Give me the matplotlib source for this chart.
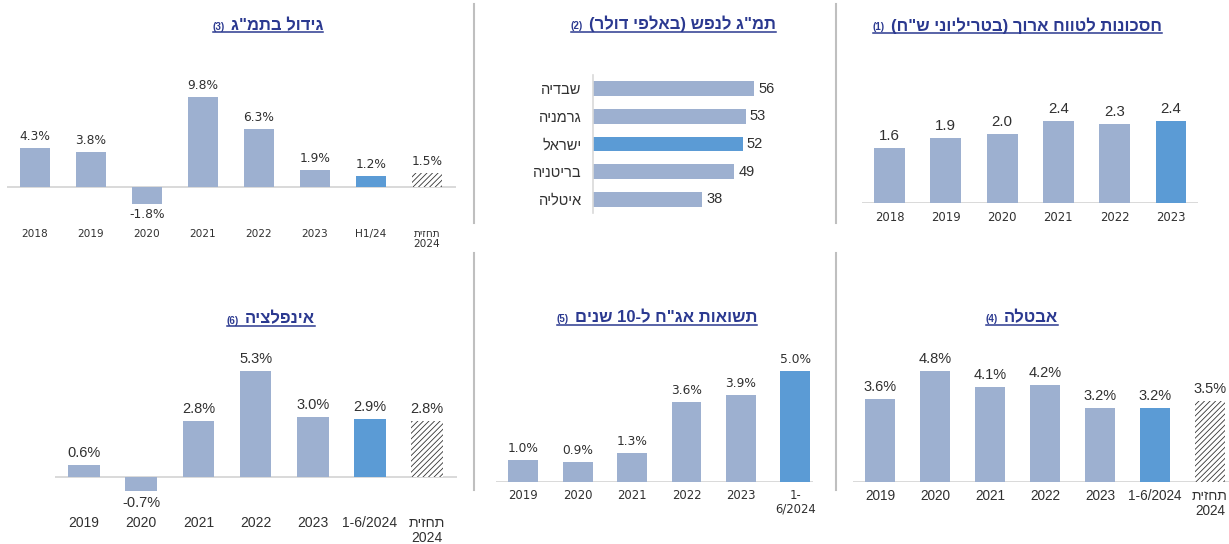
import re
import numpy as np
import matplotlib
matplotlib.use('Agg')
import matplotlib.pyplot as plt
from matplotlib.lines import Line2D

W, H = 1229, 544

# ---- data ----
savings_years = ['2018', '2019', '2020', '2021', '2022', '2023']
savings = [1.6, 1.9, 2.0, 2.4, 2.3, 2.4]

countries = ['שבדיה', 'גרמניה', 'ישראל', 'בריטניה', 'איטליה']
gdp_per_capita = [56, 53, 52, 49, 38]

growth_labels = ['2018', '2019', '2020', '2021', '2022', '2023', 'H1/24', 'תחזית\n2024']
growth = [4.3, 3.8, -1.8, 9.8, 6.3, 1.9, 1.2, 1.5]

unemp_labels = ['2019', '2020', '2021', '2022', '2023', '1-6/2024', 'תחזית\n2024']
unemployment = [3.6, 4.8, 4.1, 4.2, 3.2, 3.2, 3.5]

bond_labels = ['2019', '2020', '2021', '2022', '2023', '1-\n6/2024']
bond_yield = [1.0, 0.9, 1.3, 3.6, 3.9, 5.0]

infl_labels = ['2019', '2020', '2021', '2022', '2023', '1-6/2024', 'תחזית\n2024']
inflation = [0.6, -0.7, 2.8, 5.3, 3.0, 2.9, 2.8]

titles = {
    'savings': ('חסכונות לטווח ארוך (בטריליוני ש"ח)', '(1)'),
    'gdppc': ('תמ"ג לנפש (באלפי דולר)', '(2)'),
    'growth': ('גידול בתמ"ג', '(3)'),
    'unemp': ('אבטלה', '(4)'),
    'bond': ('תשואות אג"ח ל-10 שנים', '(5)'),
    'infl': ('אינפלציה', '(6)'),
}

LIGHT = '#9DB0D0'
DARK = '#5B9BD5'
GRID = '#D9D9D9'
TITLE = '#2B3990'
TXT = '#303030'

plt.rcParams['font.family'] = ['Liberation Sans', 'DejaVu Sans']
plt.rcParams['hatch.linewidth'] = 0.6

HEB = re.compile(r'[\u0590-\u05FF]')


def rtl(s):
    # crude visual ordering for hebrew text (matplotlib has no bidi)
    out = []
    for line in s.split('\n'):
        if not HEB.search(line):
            out.append(line)
            continue
        parts = re.findall(r'[0-9A-Za-z./%]+|[^0-9A-Za-z./%]+', line)
        vis = []
        for p in reversed(parts):
            if re.match(r'[0-9A-Za-z]', p):
                vis.append(p)
            else:
                vis.append(p[::-1].translate(str.maketrans('()', ')(')))
        out.append(''.join(vis))
    return '\n'.join(out)


fig = plt.figure(figsize=(W / 100, H / 100), dpi=100)


def bar_panel(vals, labels, c0, sp, left, right, base, scale, ylo, yhi,
              hi_idx, fc_idx, fmt, vfont, vsize, tfont, tsize, tick_top):
    top = base - yhi * scale
    bottom = base - ylo * scale
    ax = fig.add_axes([left / W, 1 - bottom / H, (right - left) / W, (bottom - top) / H])
    x = np.arange(len(vals))
    colors = [DARK if i == hi_idx else LIGHT for i in x]
    bars = ax.bar(x, vals, width=0.55, color=colors, zorder=2)
    if fc_idx is not None:
        b = bars[fc_idx]
        b.set_facecolor('white')
        b.set_edgecolor('#333333')
        b.set_linewidth(0)
        b.set_hatch('//////')
    ax.axhline(0, color=GRID, lw=1.4, zorder=1)
    for i, v in zip(x, vals):
        ax.annotate(fmt(v), (i, v), xytext=(0, 3.5 if v >= 0 else -3.5),
                    textcoords='offset points', ha='center',
                    va='bottom' if v >= 0 else 'top',
                    fontsize=vsize, family=vfont, color=TXT)
    ax.set_xlim((left - c0) / sp, (right - c0) / sp)
    ax.set_ylim(ylo, yhi)
    ax.set_xticks(x)
    ax.set_xticklabels([rtl(l) for l in labels], fontsize=tsize, family=tfont,
                       color=TXT, linespacing=1.05)
    ax.tick_params(axis='x', length=0, pad=(tick_top - bottom) * 0.72)
    ax.set_yticks([])
    for s in ax.spines.values():
        s.set_visible(False)
    ax.patch.set_alpha(0)
    return ax


pct = lambda v: '{:.1f}%'.format(v)

# top-left: GDP growth
bar_panel(growth, growth_labels, 35, 56, 7, 456, 187, 9.18, -3.2, 13.5,
          6, 7, pct, 'DejaVu Sans', 8.8, 'DejaVu Sans', 7.6, 229)

# top-right: long-term savings
bar_panel(savings, savings_years, 889.5, 56.3, 862, 1198, 202.7, 34.2, 0, 3.5,
          5, None, lambda v: '{:.1f}'.format(v), 'Liberation Sans', 10.8,
          'DejaVu Sans', 8.4, 211)

# bottom-left: inflation
bar_panel(inflation, infl_labels, 84, 57.2, 55, 457, 477.3, 20.1, -2, 7,
          5, 6, pct, 'Liberation Sans', 10.5, 'Liberation Sans', 10, 516)

# bottom-middle: 10y bond yields
bar_panel(bond_yield, bond_labels, 523.3, 54.4, 496, 813, 482.3, 22.3, 0, 6.5,
          5, None, pct, 'DejaVu Sans', 8.8, 'DejaVu Sans', 8.4, 489)

# bottom-right: unemployment
bar_panel(unemployment, unemp_labels, 880, 55, 853, 1229, 482.3, 23.2, 0, 6,
          5, 6, pct, 'Liberation Sans', 10.5, 'Liberation Sans', 9.8, 489)

# top-middle: GDP per capita (horizontal)
l2, r2, t2, b2 = 592.7, 800, 75, 213
ax2 = fig.add_axes([l2 / W, 1 - b2 / H, (r2 - l2) / W, (b2 - t2) / H])
yy = np.arange(len(countries))
ax2.barh(yy, gdp_per_capita, height=0.54,
         color=[DARK if c == 'ישראל' else LIGHT for c in countries])
for i, v in zip(yy, gdp_per_capita):
    ax2.annotate(str(v), (v, i), xytext=(3, 0), textcoords='offset points',
                 ha='left', va='center', fontsize=10.5, color=TXT)
ax2.set_ylim(len(countries) - 0.5, -0.5)
ax2.set_xlim(0, (r2 - l2) / 2.886)
ax2.set_yticks(yy)
ax2.set_yticklabels([rtl(c) for c in countries], fontsize=10.5, color=TXT)
ax2.tick_params(axis='y', length=0, pad=8)
ax2.set_xticks([])
for k, s in ax2.spines.items():
    s.set_visible(k == 'left')
ax2.spines['left'].set_color(GRID)
ax2.spines['left'].set_linewidth(1.2)
ax2.patch.set_alpha(0)

# titles with footnote number and underline
renderer = fig.canvas.get_renderer()


def panel_title(key, right_px, line_px):
    text, note = titles[key]
    yb = 1 - (line_px - 2.5) / H
    t = fig.text(right_px / W, yb, rtl(text), ha='right', va='baseline',
                 fontsize=12, fontweight='bold', color=TITLE)
    bb = t.get_window_extent(renderer)
    n = fig.text((bb.x0 - 6) / W, yb, note, ha='right', va='baseline',
                 fontsize=7, fontweight='bold', color=TITLE)
    nb = n.get_window_extent(renderer)
    fig.add_artist(Line2D([nb.x0 / W, bb.x1 / W], [1 - line_px / H] * 2,
                          color=TITLE, lw=1.1))


panel_title('growth', 323.3, 32.3)
panel_title('gdppc', 776, 31.7)
panel_title('savings', 1161.7, 33)
panel_title('infl', 315, 326)
panel_title('bond', 757.3, 325)
panel_title('unemp', 1058.3, 325)

# separators
for xs in (474, 836):
    for y0, y1 in ((4, 223), (253, 490)):
        fig.add_artist(Line2D([xs / W] * 2, [1 - y0 / H, 1 - y1 / H],
                              color='#BFBFBF', lw=1.5))

fig.savefig('out.png', dpi=100)
